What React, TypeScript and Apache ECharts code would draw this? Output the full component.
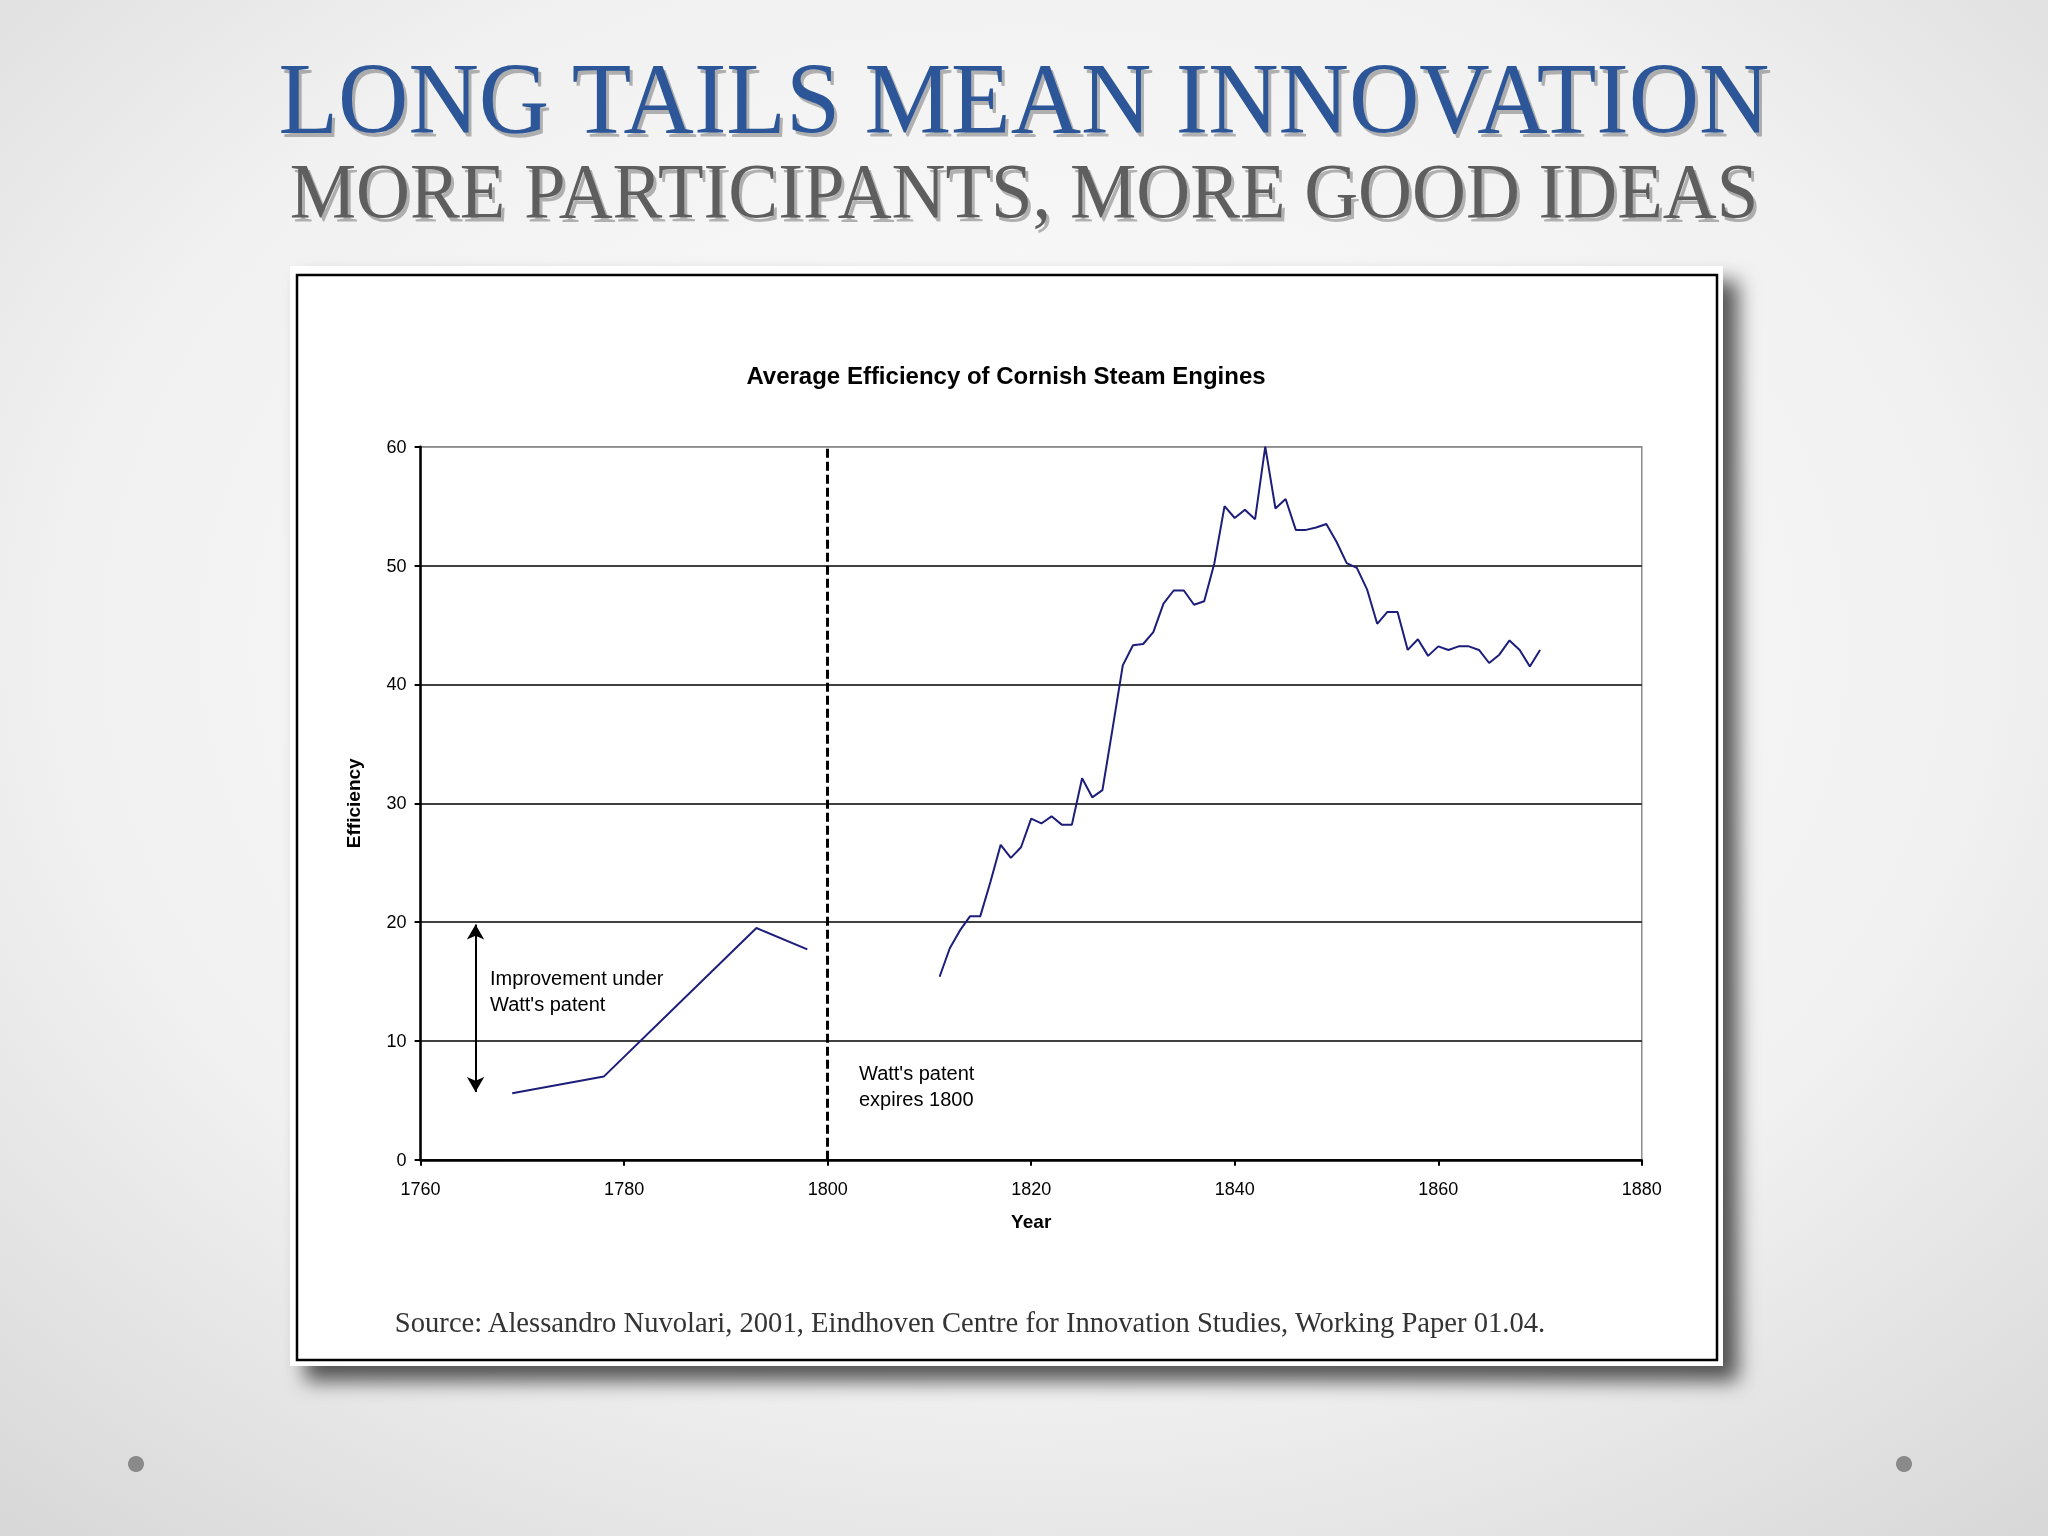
import React, { useEffect, useRef } from "react";
import * as echarts from "echarts";

// Data
const yearsWatt = [1769, 1778, 1793, 1798];
const effWatt = [5.6, 7.0, 19.5, 17.7];

const yearsPost = [
  1811, 1812, 1813, 1814, 1815, 1816, 1817, 1818, 1819, 1820,
  1821, 1822, 1823, 1824, 1825, 1826, 1827, 1828, 1829, 1830,
  1831, 1832, 1833, 1834, 1835, 1836, 1837, 1838, 1839, 1840,
  1841, 1842, 1843, 1844, 1845, 1846, 1847, 1848, 1849, 1850,
  1851, 1852, 1853, 1854, 1855, 1856, 1857, 1858, 1859, 1860,
  1861, 1862, 1863, 1864, 1865, 1866, 1867, 1868, 1869, 1870,
];
const effPost = [
  15.4, 17.8, 19.3, 20.5, 20.5, 23.4, 26.5, 25.4, 26.3, 28.7,
  28.3, 28.9, 28.2, 28.2, 32.1, 30.5, 31.1, 36.3, 41.6, 43.3,
  43.4, 44.4, 46.8, 47.9, 47.9, 46.7, 47.0, 50.2, 55.0, 54.0,
  54.7, 53.9, 60.0, 54.8, 55.6, 53.0, 53.0, 53.2, 53.5, 52.0,
  50.2, 49.8, 48.0, 45.1, 46.1, 46.1, 42.9, 43.8, 42.4, 43.2,
  42.9, 43.2, 43.2, 42.9, 41.8, 42.5, 43.7, 42.9, 41.5, 42.9,
];

const xTicks = { min: 1760, max: 1880, interval: 20 };
const yTicks = { min: 0, max: 60, interval: 10 };

const patentExpiry = 1800;
const arrowYear = 1765.4;
const arrowRange = [5.7, 19.8];

const pageTitle = "LONG TAILS MEAN INNOVATION";
const pageSubtitle = "MORE PARTICIPANTS, MORE GOOD IDEAS";
const chartTitle = "Average Efficiency of Cornish Steam Engines";
const sourceText =
  "Source: Alessandro Nuvolari, 2001, Eindhoven Centre for Innovation Studies, Working Paper 01.04.";
const noteWatt = "Improvement under\nWatt's patent";
const noteExpiry = "Watt's patent\nexpires 1800";

const SANS = '"Liberation Sans", Arial, sans-serif';
const SERIF = '"Liberation Serif", "Times New Roman", serif';
const LINE_COLOR = "#1d1d7a";

export default function App() {
  const ref = useRef<HTMLDivElement>(null);

  useEffect(() => {
    if (!ref.current) return;
    const chart = echarts.init(ref.current, undefined, { renderer: "svg" });

    const seriesWatt = yearsWatt.map((y, i) => [y, effWatt[i]]);
    const seriesPost = yearsPost.map((y, i) => [y, effPost[i]]);

    const shadowText = (
      text: string,
      x: number,
      y: number,
      size: number,
      color: string,
      scaleX: number
    ) => [
      {
        type: "text",
        x: x + 3,
        y: y + 4,
        scaleX,
        z: 5,
        style: {
          text,
          fill: "rgba(0,0,0,0.28)",
          fontFamily: SERIF,
          fontSize: size,
          align: "center",
          verticalAlign: "middle",
        },
      },
      {
        type: "text",
        x,
        y,
        scaleX,
        z: 6,
        style: {
          text,
          fill: color,
          fontFamily: SERIF,
          fontSize: size,
          align: "center",
          verticalAlign: "middle",
        },
      },
    ];

    const option: any = {
      animation: false,
      backgroundColor: {
        type: "radial",
        x: 0.5,
        y: 0.42,
        r: 0.78,
        colorStops: [
          { offset: 0, color: "#fdfdfd" },
          { offset: 0.6, color: "#f1f1f1" },
          { offset: 1, color: "#d6d6d6" },
        ],
      },
      graphic: {
        elements: [
          ...shadowText(pageTitle, 1024, 99, 101, "#2c5697", 0.965),
          ...shadowText(pageSubtitle, 1024, 191, 79, "#5e5e5e", 0.945),
          {
            type: "rect",
            z: -10,
            shape: { x: 290, y: 266, width: 1433, height: 1100 },
            style: {
              fill: "#ffffff",
              shadowColor: "rgba(0,0,0,0.65)",
              shadowBlur: 20,
              shadowOffsetX: 15,
              shadowOffsetY: 15,
            },
          },
          {
            type: "rect",
            z: -9,
            shape: { x: 297, y: 275, width: 1420, height: 1085 },
            style: { fill: "#ffffff", stroke: "#000000", lineWidth: 2.5 },
          },
          {
            type: "text",
            x: 1006,
            y: 375,
            z: 5,
            style: {
              text: chartTitle,
              fill: "#000",
              fontFamily: SANS,
              fontSize: 24,
              fontWeight: "bold",
              align: "center",
              verticalAlign: "middle",
            },
          },
          {
            type: "text",
            x: 490,
            y: 991,
            z: 5,
            style: {
              text: noteWatt,
              fill: "#000",
              fontFamily: SANS,
              fontSize: 20,
              lineHeight: 26,
              align: "left",
              verticalAlign: "middle",
            },
          },
          {
            type: "text",
            x: 859,
            y: 1086,
            z: 5,
            style: {
              text: noteExpiry,
              fill: "#000",
              fontFamily: SANS,
              fontSize: 20,
              lineHeight: 26,
              align: "left",
              verticalAlign: "middle",
            },
          },
          {
            type: "text",
            x: 970,
            y: 1322,
            z: 5,
            style: {
              text: sourceText,
              fill: "#333",
              fontFamily: SERIF,
              fontSize: 28.6,
              align: "center",
              verticalAlign: "middle",
            },
          },
          {
            type: "circle",
            z: 5,
            shape: { cx: 136, cy: 1464, r: 8 },
            style: { fill: "#8a8a8a" },
          },
          {
            type: "circle",
            z: 5,
            shape: { cx: 1904, cy: 1464, r: 8 },
            style: { fill: "#8a8a8a" },
          },
        ],
      },
      grid: {
        left: 420.6,
        right: 2048 - 1641.8,
        top: 446.7,
        bottom: 1536 - 1159.8,
        show: true,
        borderColor: "#8c8c8c",
        borderWidth: 1.5,
        backgroundColor: "transparent",
      },
      xAxis: {
        type: "value",
        min: xTicks.min,
        max: xTicks.max,
        interval: xTicks.interval,
        name: "Year",
        nameLocation: "middle",
        nameGap: 52,
        nameTextStyle: {
          fontFamily: SANS,
          fontSize: 19,
          fontWeight: "bold",
          color: "#000",
        },
        axisLine: { show: true, lineStyle: { color: "#000", width: 2.5 } },
        axisTick: { show: true, length: 6, lineStyle: { color: "#000", width: 2 } },
        axisLabel: {
          fontFamily: SANS,
          fontSize: 18,
          color: "#000",
          margin: 20,
          formatter: (v: number) => String(v),
        },
        splitLine: { show: false },
      },
      yAxis: {
        type: "value",
        min: yTicks.min,
        max: yTicks.max,
        interval: yTicks.interval,
        name: "Efficiency",
        nameLocation: "middle",
        nameGap: 58,
        nameTextStyle: {
          fontFamily: SANS,
          fontSize: 19,
          fontWeight: "bold",
          color: "#000",
        },
        axisLine: { show: true, lineStyle: { color: "#000", width: 2.5 } },
        axisTick: { show: true, length: 6, lineStyle: { color: "#000", width: 2 } },
        axisLabel: {
          fontFamily: SANS,
          fontSize: 18,
          color: "#000",
          margin: 14,
        },
        splitLine: {
          show: true,
          lineStyle: {
            color: ["#000", "#000", "#000", "#000", "#000", "#000", "#8c8c8c"],
            width: 1.6,
          },
        },
      },
      series: [
        {
          type: "line",
          data: seriesWatt,
          showSymbol: false,
          symbol: "none",
          lineStyle: { color: LINE_COLOR, width: 2 },
          z: 3,
          markLine: {
            silent: true,
            symbol: ["none", "none"],
            label: { show: false },
            lineStyle: { color: "#000", width: 3, type: [9, 4] },
            data: [{ xAxis: patentExpiry }],
          },
        },
        {
          type: "line",
          data: seriesPost,
          showSymbol: false,
          symbol: "none",
          lineStyle: { color: LINE_COLOR, width: 2 },
          z: 3,
          markLine: {
            silent: true,
            symbol: ["arrow", "arrow"],
            symbolSize: [13, 15],
            label: { show: false },
            lineStyle: { color: "#000", width: 2, type: "solid" },
            data: [
              [
                { coord: [arrowYear, arrowRange[0]] },
                { coord: [arrowYear, arrowRange[1]] },
              ],
            ],
          },
        },
      ],
    };

    chart.setOption(option);
    return () => chart.dispose();
  }, []);

  return (
    <div
      ref={ref}
      style={{ position: "fixed", left: 0, top: 0, width: 2048, height: 1536 }}
    />
  );
}
